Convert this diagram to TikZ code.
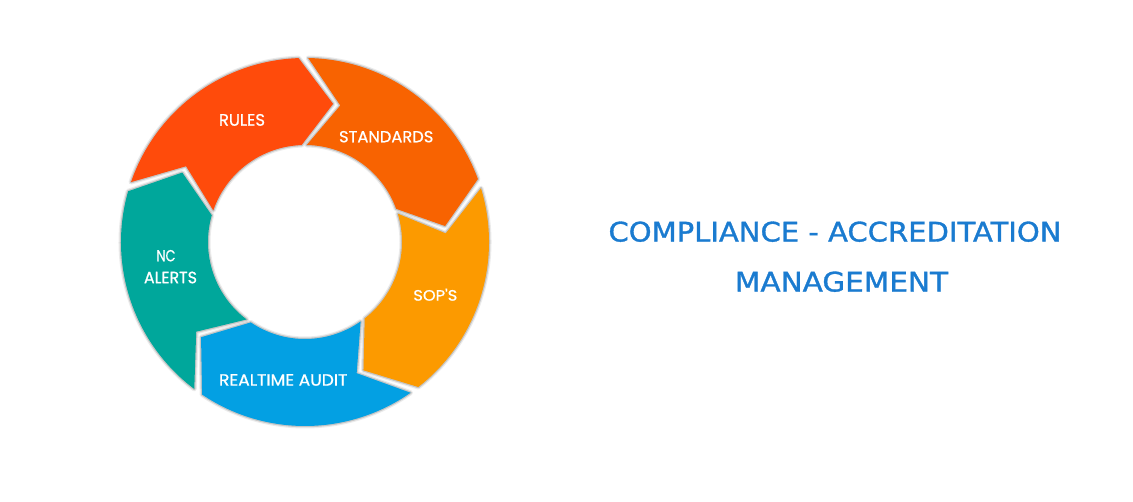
\documentclass[tikz,border=0pt]{standalone}
\usepackage{graphicx}
\usepackage{fontspec}
\setmainfont{Poppins}
\newfontfamily\lblfont{Poppins}[FakeBold=0.8]
\newfontfamily\titlefont{DejaVu Sans}[FakeBold=1.2]
\definecolor{crules}{HTML}{FF4B0B}
\definecolor{cstand}{HTML}{F86301}
\definecolor{csop}{HTML}{FC9A00}
\definecolor{caudit}{HTML}{03A0E3}
\definecolor{cnc}{HTML}{00A79B}
\definecolor{ctitle}{HTML}{1A7BD0}
\newcommand\Rout{184}
\newcommand\Rin{97}
\newcommand\Rmid{141}
\newcommand\Gap{3}
\newcommand\Tip{13.5}
\newcommand\segpath[2]{({#1-\Gap}:\Rout pt) arc[start angle={#1-\Gap}, end angle={#2}, radius=\Rout pt] -- ({#2-\Tip}:\Rmid pt) -- ({#2}:\Rin pt) arc[start angle={#2}, end angle={#1-\Gap}, radius=\Rin pt] -- ({#1-\Gap-\Tip}:\Rmid pt) -- cycle}
\newcommand\fitbox[3]{\resizebox{#1pt}{#2pt}{#3}}
\tikzset{
  shadowwide/.style={draw=black, line width=5pt, draw opacity=.08, line join=round},
  shadownarrow/.style={draw=black, line width=2.5pt, draw opacity=.16, line join=round},
  lbl/.style={inner sep=0pt, outer sep=0pt, text=white, anchor=center, font=\lblfont},
  ttl/.style={inner sep=0pt, outer sep=0pt, text=ctitle, anchor=center, font=\titlefont}
}
\begin{document}
\begin{tikzpicture}
\fill[white] (0pt,0pt) rectangle (1133pt,501pt);
\useasboundingbox (0pt,0pt) rectangle (1133pt,501pt);
\coordinate (C) at (305pt,259pt);
\begin{scope}[shift={(C)}]
  % shadows
  \foreach \a/\b in {164/92, 92/20, 20/-52, -52/-124, 236/164}{
    \path[shadowwide] \segpath{\a}{\b};
    \path[shadownarrow] \segpath{\a}{\b};
  }
  % segments
  \fill[crules] \segpath{164}{92};
  \fill[cstand] \segpath{92}{20};
  \fill[csop] \segpath{20}{-52};
  \fill[caudit] \segpath{-52}{-124};
  \fill[cnc] \segpath{236}{164};
\end{scope}
\node[lbl] (rules) at (242pt,381.1pt) {\fitbox{46}{11.7}{RULES}};
\node[lbl] (standards) at (386.2pt,364.3pt) {\fitbox{94.3}{11.3}{STANDARDS}};
\node[lbl] (sops) at (435.3pt,206.3pt) {\fitbox{44}{12}{SOP'S}};
\node[lbl] (audit) at (283.2pt,121pt) {\fitbox{128.3}{11.4}{REALTIME AUDIT}};
\node[lbl] (nc) at (166pt,245.3pt) {\fitbox{19}{11.3}{NC}};
\node[lbl] (alerts) at (170.5pt,223.5pt) {\fitbox{53}{11.6}{ALERTS}};
\node[ttl] (title1) at (835pt,269.3pt) {\fitbox{453}{20}{COMPLIANCE - ACCREDITATION}};
\node[ttl] (title2) at (841.5pt,219.3pt) {\fitbox{213}{20}{MANAGEMENT}};
\end{tikzpicture}
\end{document}
